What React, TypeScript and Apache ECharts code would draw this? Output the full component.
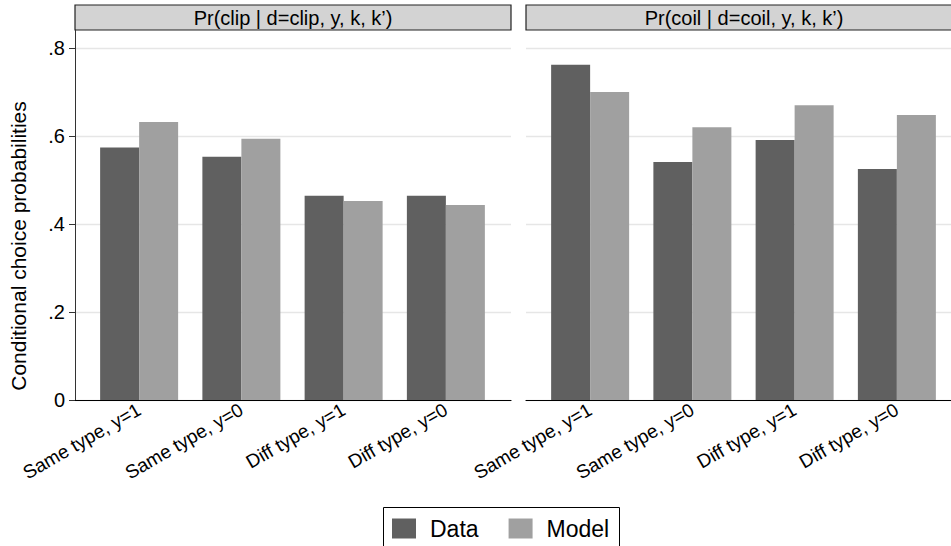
import React, { useEffect, useRef } from "react";
import * as echarts from "echarts";

const categories = ["Same type, y=1", "Same type, y=0", "Diff type, y=1", "Diff type, y=0"];
const clipData = [0.574, 0.553, 0.464, 0.464];
const clipModel = [0.632, 0.594, 0.452, 0.443];
const coilData = [0.762, 0.541, 0.591, 0.525];
const coilModel = [0.7, 0.62, 0.67, 0.648];
const yTicks = [0, 0.2, 0.4, 0.6, 0.8];
const yTickLabels = ["0", ".2", ".4", ".6", ".8"];
const panelTitles = ["Pr(clip | d=clip, y, k, k\u2019)", "Pr(coil | d=coil, y, k, k\u2019)"];
const seriesNames = ["Data", "Model"];
const yTitle = "Conditional choice probabilities";

const FONT = "'Liberation Sans', Arial, Helvetica, sans-serif";
const DARK = "#606060";
const LIGHT = "#a0a0a0";
const YMAX = 0.8409;

export default function App() {
  const ref = useRef<HTMLDivElement>(null);
  useEffect(() => {
    document.body.style.margin = "0";
    if (!ref.current) return;
    const chart = echarts.init(ref.current, undefined, { renderer: "svg" });

    const top = 30;
    const bottom = 146;
    const panelW = 436;
    const panelLefts = [75, 526];
    const barOffset = 13;
    const barGridW = 409;

    const grids: any[] = [];
    const xAxes: any[] = [];
    const yAxes: any[] = [];
    panelLefts.forEach((pl, p) => {
      // frame grid
      grids.push({ left: pl, top, width: panelW, bottom });
      xAxes.push({
        type: "value",
        gridIndex: p * 2,
        min: 0,
        max: 1,
        axisLine: { show: true, lineStyle: { color: "#000", width: 1.2 } },
        axisTick: { show: false },
        axisLabel: { show: false },
        splitLine: { show: false },
      });
      yAxes.push({
        type: "value",
        gridIndex: p * 2,
        min: 0,
        max: YMAX,
        interval: 0.2,
        axisLine: { show: p === 0, lineStyle: { color: "#333", width: 1 } },
        axisTick: {
          show: p === 0,
          length: 6,
          customValues: yTicks,
          lineStyle: { color: "#333" },
        },
        axisLabel: {
          show: p === 0,
          customValues: yTicks,
          margin: 10,
          fontSize: 20,
          fontFamily: FONT,
          color: "#000",
          formatter: (v: number) => {
            const i = yTicks.findIndex((t) => Math.abs(t - v) < 1e-6);
            return i >= 0 ? yTickLabels[i] : "";
          },
        },
        splitLine: { show: true, lineStyle: { color: "#e6e6e6", width: 1.3 } },
      });
      // bar grid
      grids.push({ left: pl + barOffset, top, width: barGridW, bottom });
      xAxes.push({
        type: "category",
        gridIndex: p * 2 + 1,
        data: categories,
        axisLine: { show: false },
        axisTick: { show: false },
        axisLabel: {
          interval: 0,
          rotate: 30,
          margin: 8,
          fontSize: 19,
          fontFamily: FONT,
          color: "#000",
        },
        splitLine: { show: false },
      });
      yAxes.push({
        type: "value",
        gridIndex: p * 2 + 1,
        min: 0,
        max: YMAX,
        show: false,
        splitLine: { show: false },
      });
    });

    const mk = (name: string, data: number[], color: string, idx: number) => ({
      name,
      type: "bar",
      xAxisIndex: idx,
      yAxisIndex: idx,
      data,
      barWidth: 39,
      barGap: "0%",
      itemStyle: { color },
      emphasis: { disabled: true },
    });

    const headers = panelLefts.map((pl, p) => ({
      type: "group",
      children: [
        {
          type: "rect",
          shape: { x: pl, y: 5, width: panelW, height: 25 },
          style: { fill: "#d3d3d3", stroke: "#222", lineWidth: 1.2 },
        },
        {
          type: "text",
          x: pl + panelW / 2,
          y: 17.5,
          style: {
            text: panelTitles[p],
            fontSize: 20,
            fontFamily: FONT,
            fill: "#000",
            align: "center",
            verticalAlign: "middle",
          },
        },
      ],
    }));

    chart.setOption({
      animation: false,
      grid: grids,
      xAxis: xAxes,
      yAxis: yAxes,
      legend: {
        data: seriesNames,
        left: 392,
        top: 517,
        padding: 0,
        itemWidth: 24,
        itemHeight: 20,
        itemGap: 30,
        icon: "rect",
        selectedMode: false,
        textStyle: {
          fontSize: 23,
          fontFamily: FONT,
          color: "#000",
          padding: [0, 0, 0, 9],
        },
      },
      graphic: [
        ...headers,
        {
          type: "rect",
          shape: { x: 383.5, y: 507.5, width: 236, height: 60 },
          style: { fill: "none", stroke: "#000", lineWidth: 1 },
          z: 0,
        },
        {
          type: "text",
          x: 18,
          y: 246,
          rotation: Math.PI / 2,
          style: {
            text: yTitle,
            fontSize: 21,
            fontFamily: FONT,
            fill: "#000",
            align: "center",
            verticalAlign: "middle",
          },
        },
      ],
      series: [
        mk(seriesNames[0], clipData, DARK, 1),
        mk(seriesNames[1], clipModel, LIGHT, 1),
        mk(seriesNames[0], coilData, DARK, 3),
        mk(seriesNames[1], coilModel, LIGHT, 3),
      ],
    });
    return () => chart.dispose();
  }, []);
  return <div ref={ref} style={{ width: 951, height: 546 }} />;
}
